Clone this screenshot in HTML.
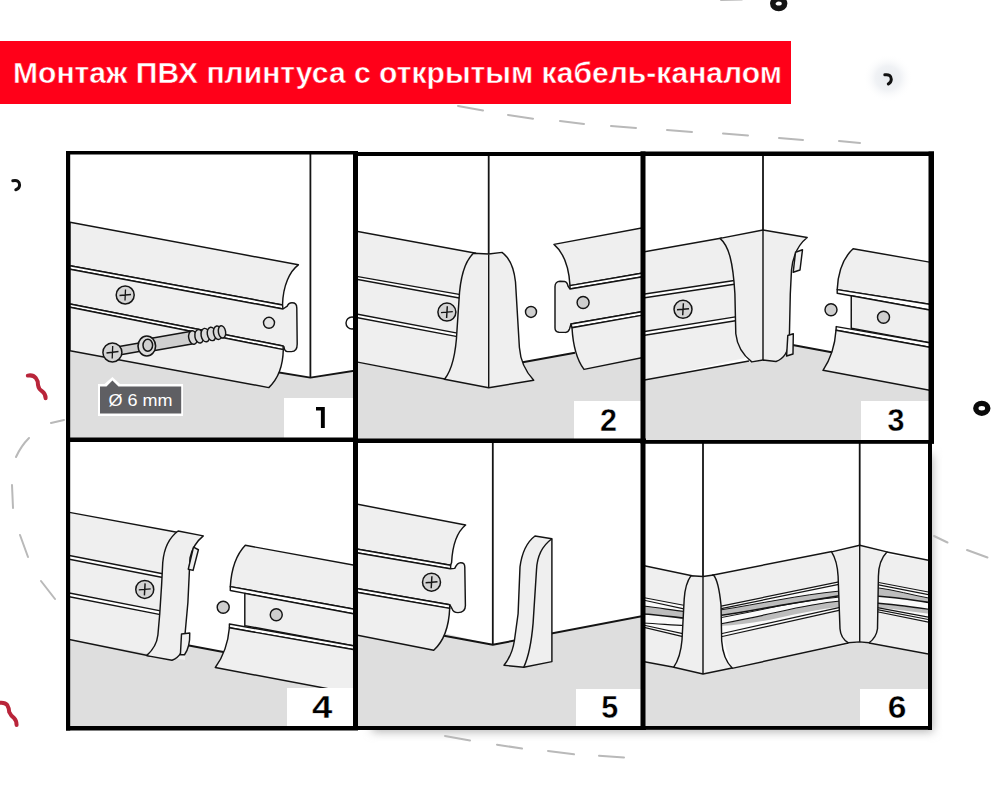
<!DOCTYPE html>
<html><head><meta charset="utf-8">
<style>
html,body{margin:0;padding:0;width:1000px;height:800px;overflow:hidden;background:#fff;}
svg{position:absolute;left:0;top:0;display:block}
</style></head><body>
<svg width="1000" height="800" viewBox="0 0 1000 800">
<defs>
<radialGradient id="glow" cx="0.5" cy="0.5" r="0.5">
<stop offset="0" stop-color="#e8ebef"/><stop offset="0.5" stop-color="#f0f2f5"/><stop offset="1" stop-color="#fff" stop-opacity="0"/>
</radialGradient>
<linearGradient id="shb" x1="0" y1="0" x2="0" y2="1">
<stop offset="0" stop-color="#cfcfcf"/><stop offset="0.35" stop-color="#ececec"/><stop offset="1" stop-color="#fff" stop-opacity="0"/>
</linearGradient>
<linearGradient id="shr" x1="0" y1="0" x2="1" y2="0">
<stop offset="0" stop-color="#d8d8d8"/><stop offset="0.4" stop-color="#f0f0f0"/><stop offset="1" stop-color="#fff" stop-opacity="0"/>
</linearGradient>
<filter id="blur" x="-10%" y="-10%" width="120%" height="120%"><feGaussianBlur stdDeviation="5"/></filter>
<clipPath id="c1"><rect x="68" y="152" width="288" height="288"/></clipPath>
<clipPath id="c2"><rect x="355" y="154" width="288" height="287"/></clipPath>
<clipPath id="c3"><rect x="643" y="154" width="288" height="288"/></clipPath>
<clipPath id="c4"><rect x="68" y="440" width="288" height="288"/></clipPath>
<clipPath id="c5"><rect x="355" y="441" width="288" height="287"/></clipPath>
<clipPath id="c6"><rect x="643" y="442" width="288" height="286"/></clipPath>
</defs>

<!-- decorations -->
<g fill="none" stroke="#b9b9b9" stroke-width="2" stroke-linecap="round">
<path d="M721,0 L742,-0.5"/>
<path d="M458,106 L483,110.5 M508,115 L533,118.7 M560,121 L584,124 M611,126 L636,128 M667,130 L692,132 M723,133.5 L748,135.5 M779,138 L803,140 M839,141 L860,143"/>
<path d="M64,420 L51,423 M29,438 Q21,446 16,457 M12,485 L13,508 M20,535 L28,557 M41,581 L55,599"/>
<path d="M934,536 L947.5,542.5 M967,550 L987.5,557.5"/>
<path d="M445,736 L470,740.6 M497,744.7 L522,748.5 M548,751 L574,754.3 M599,755.7 L624,757.4"/>
</g>
<ellipse cx="778.7" cy="3.6" rx="5.9" ry="4.8" fill="none" stroke="#151515" stroke-width="5.6"/>
<ellipse cx="888" cy="78" rx="25" ry="24" fill="url(#glow)"/>
<path d="M884.8,74.8 Q891.2,73.8 891.3,79.3 Q891.2,82.8 888.3,84" fill="none" stroke="#111" stroke-width="3" stroke-linecap="round"/>
<path d="M12.8,180.8 Q19.5,179.5 19.6,185 Q19.5,188.8 15.8,189.8" fill="none" stroke="#111" stroke-width="3" stroke-linecap="round"/>
<ellipse cx="981.8" cy="408.3" rx="6" ry="4.9" fill="none" stroke="#0a0a0a" stroke-width="5.4"/>
<path d="M27.8,375.6 Q33,374.6 35.8,378 Q38.2,381 38,385 Q38.6,389 42,391.2 Q45.6,393.8 45.6,398.2" fill="none" stroke="#b9253a" stroke-width="4" stroke-linecap="round"/>
<path d="M-1,702.8 Q5,702 7.2,705 Q9,708 9.2,712 Q11,716 14,718 Q16.6,720.5 16.6,725" fill="none" stroke="#b9253a" stroke-width="4" stroke-linecap="round"/>

<!-- shadow -->
<rect x="372" y="455" width="561" height="277" fill="#b8b8b8" filter="url(#blur)"/>

<!-- panel backgrounds -->
<rect x="68" y="152" width="864" height="576" fill="#fff"/>

<!-- PANELS -->
<g id="panels" stroke="#141414" stroke-width="1.45" stroke-linejoin="round">
<!-- P1 -->
<g clip-path="url(#c1)">
<polygon points="70,339 310.4,377.7 356,370.5 356,440 70,440" fill="#dedede" stroke="none"/>
<path d="M310.4,152 L310.4,377.7" fill="none" stroke-width="1.8"/>
<path d="M270,371 L310.4,377.7 L356,370.5" fill="none" stroke-width="1.8"/>
<circle cx="352" cy="323" r="6" fill="#fff"/>
<!-- baseboard -->
<path d="M70,222.2 L298.4,264.8 C290,271 283,285 282.5,305 L70,265.7 Z" fill="#efefef"/>
<path d="M70,265.7 L282.5,305 L283,309 L70,269.3 Z" fill="#fff"/>
<path d="M70,269.3 L283,309 L287.2,306.2 C288,304 289.5,302.8 292,302.8 C295.5,302.8 296.8,304.8 296.8,308 L297.2,344 C297.2,349.5 295,351.6 291.5,351.6 L287.5,351.6 C285.5,351.6 284.2,349.8 284,346.8 L283,346 L70,304 Z" fill="#efefef"/>
<path d="M70,304 L283,346 L283.3,349.6 L70,307.3 Z" fill="#fff"/>
<path d="M70,307.3 L283.3,349.6 C283,365 278,379 268.8,387.6 L70,350.8 Z" fill="#efefef"/>
<circle cx="269" cy="322.8" r="5.5" fill="#e4e4e4"/>
<circle cx="125.2" cy="295" r="9" fill="#d4d4d4" stroke-width="1.5"/>
<path d="M119.5,295.5 L131,294.5 M125.5,289.5 L125,300.5" fill="none" stroke-width="1.3"/>
<!-- dowel -->
<path d="M150,338.5 L190,331.5 L192,344 L152,351 Z" fill="#cfcfcf"/>
<ellipse cx="193" cy="337.5" rx="4.3" ry="6.8" fill="#dadada" transform="rotate(-10 193 337.5)"/>
<ellipse cx="199.2" cy="336.3" rx="4.3" ry="6.8" fill="#dadada" transform="rotate(-10 199.2 336.3)"/>
<ellipse cx="205.4" cy="335.1" rx="4.3" ry="6.8" fill="#dadada" transform="rotate(-10 205.4 335.1)"/>
<ellipse cx="211.6" cy="333.9" rx="4.3" ry="6.8" fill="#dadada" transform="rotate(-10 211.6 333.9)"/>
<ellipse cx="217.8" cy="332.7" rx="4.3" ry="6.8" fill="#dadada" transform="rotate(-10 217.8 332.7)"/>
<ellipse cx="222" cy="331.9" rx="3.6" ry="6.2" fill="#dadada" transform="rotate(-10 222 331.9)"/>
<path d="M112,347.8 L142,342.5 L143.5,350.8 L113.5,356 Z" fill="#cfcfcf"/>
<ellipse cx="146.8" cy="346" rx="8.8" ry="10" fill="#dcdcdc" stroke-width="1.6"/>
<ellipse cx="147.8" cy="345.2" rx="4.8" ry="6" fill="#cfcfcf" stroke-width="1.5"/>
<circle cx="112.4" cy="352.4" r="9.5" fill="#d4d4d4" stroke-width="1.5"/>
<path d="M106.5,353 L118.5,351.5 M112.7,346 L112.2,358.5" fill="none" stroke-width="1.3"/>
<!-- label -->
<path d="M98,384 L104.5,384 L112.4,377 L120,384 L183,384 L183,416 L98,416 Z" fill="#fff" stroke="none"/>
<path d="M100,386.4 L106.5,386.4 L112.4,380.5 L118.5,386.4 L181.2,386.4 L181.2,413.6 L100,413.6 Z" fill="#5f5f63" stroke="none"/>
<text x="108.4" y="405.6" font-family="Liberation Sans, sans-serif" font-size="16.5" fill="#fff" stroke="none" textLength="64" lengthAdjust="spacingAndGlyphs">Ø 6 mm</text>
</g>
<!-- P2 -->
<g clip-path="url(#c2)">
<polygon points="355,362 444.5,379.3 488.7,387.8 533.7,380.2 522.7,362.3 573.7,353 643,341 643,441 355,441" fill="#dedede" stroke="none"/>
<path d="M488.7,152 L488.7,388" fill="none" stroke-width="1.8"/>
<path d="M522.7,362.3 L575,352.8" fill="none" stroke-width="2"/>
<circle cx="531" cy="311.9" r="5.5" fill="#cfcfcf"/>
<!-- left baseboard -->
<path d="M355,231 L482,254.3 L482,385 L355,361.6 Z" fill="#efefef" stroke="none"/>
<path d="M355,231 L476,253.2" fill="none"/>
<path d="M355,276.1 L462,294.9 L462,298.5 L355,278.9 Z" fill="#fff"/>
<path d="M355,313.8 L460,333.6 L460,337.1 L355,317.2 Z" fill="#fff"/>
<path d="M355,361.6 L446,379.3" fill="none"/>
<circle cx="446.9" cy="312.1" r="9" fill="#d4d4d4" stroke-width="1.5"/>
<path d="M441,312.6 L452.8,311.6 M447.3,306.2 L446.6,318" fill="none"/>
<!-- corner piece -->
<path d="M473.5,253.2 L488.7,254 L502,252.4 C510,258 514,268 515.5,282 L519.4,347.5 C520.5,362 526,372 533.7,380.2 L488.7,387.8 L444.5,379.3 C452,370 456,352 457,330 L459,300 C460,280 464,262 473.5,253.2 Z" fill="#efefef"/>
<path d="M488.7,254.5 L488.7,387.8" fill="none"/>
<!-- right baseboard -->
<path d="M554,244.4 L643,227.8 L643,272.9 L570,285.6 C569,268 564,253 554,244.4 Z" fill="#efefef"/>
<path d="M570,285.6 L643,272.9 L643,276.7 L570,289 Z" fill="#fff"/>
<path d="M570,289 L643,276.7 L643,311.4 L571,324 L569.5,329 C568.5,331.5 567,332.4 565.5,332.4 L559,332.2 C556.5,332 555,330.5 555,328 L555,286.5 C555,283.5 557,281.2 560,281.2 L564.5,281.5 C566.5,281.8 567.5,283.5 568,286 Z" fill="#efefef"/>
<path d="M571,324 L643,311.4 L643,315.1 L572,327.7 Z" fill="#fff"/>
<path d="M572,327.7 L643,315.1 L643,357.5 L584,369.4 C577,360 573,345 572,327.7 Z" fill="#efefef"/>
<circle cx="583.1" cy="302.5" r="6" fill="#cfcfcf"/>
</g>
<!-- P3 -->
<g clip-path="url(#c3)">
<polygon points="643,380.2 747,361 763,360 776,361.5 789,350 792.2,345 832.5,352.5 931,370 931,442 643,442" fill="#dedede" stroke="none"/>
<path d="M763,152 L763,360" fill="none" stroke-width="1.8"/>
<path d="M790,344.6 L833,352.6" fill="none" stroke-width="2"/>
<circle cx="831" cy="309.7" r="6" fill="#cfcfcf"/>
<!-- left baseboard -->
<path d="M643,252.1 L745,234 L745,358 L643,380.2 Z" fill="#efefef" stroke="none"/>
<path d="M643,252.1 L722,238" fill="none"/>
<path d="M643,294.2 L736,280.2 L736,284 L643,298 Z" fill="#fff"/>
<path d="M643,331.7 L737,316.6 L737,320.5 L643,335.5 Z" fill="#fff"/>
<path d="M643,380.2 L749,361" fill="none"/>
<circle cx="683" cy="309.3" r="9" fill="#d4d4d4" stroke-width="1.5"/>
<path d="M677,309.8 L689,308.8 M683.4,303.3 L682.7,315.3" fill="none"/>
<!-- corner piece -->
<path d="M720,238.4 L763,230 L807.2,237.5 C799,244 793,255 791.5,270 L790.3,293.75 L789.3,340 C788.5,352 783,359 776,361.5 L763,360 L751.75,361.9 C743,355 737,345 735.8,333.75 L734.9,293.7 C733,262 729,246 720,238.4 Z" fill="#efefef"/>
<path d="M763,230 L763,360" fill="none"/>
<path d="M795.5,252.3 L802.5,249.7 L800,270 L793.2,272.3 Z" fill="#efefef"/>
<path d="M787.8,335.5 L793.3,333.8 L793,354 L786.6,356 Z" fill="#efefef"/>
<!-- right baseboard -->
<path d="M853.1,248.75 L931,262.4 L931,304.6 L837.2,289.6 C838,272 843,258 853.1,248.75 Z" fill="#efefef"/>
<path d="M837.2,289.6 L931,304.6 L931,310.2 L837.2,293.3 Z" fill="#fff"/>
<path d="M851.25,295.8 L931,310.2 L931,343 L851.25,328.3 Z" fill="#efefef"/>
<path d="M836.25,326.6 L931,343 L931,347.6 L836,330.3 Z" fill="#fff"/>
<path d="M836,330.3 L931,347.6 L931,390.6 L823,370.3 C830,360 835,345 836,330.3 Z" fill="#efefef"/>
<circle cx="883.5" cy="317.2" r="6" fill="#cfcfcf"/>
</g>
<!-- P4 -->
<g clip-path="url(#c4)">
<polygon points="68,623 356,676.5 356,728 68,728" fill="#dedede" stroke="none"/>
<path d="M185,644.8 L226,652.5" fill="none" stroke-width="2"/>
<circle cx="223.2" cy="607.2" r="6" fill="#cfcfcf"/>
<!-- left baseboard -->
<path d="M68,512.1 L185,534 L185,660 L68,639.3 Z" fill="#efefef" stroke="none"/>
<path d="M68,512.1 L177,532.3" fill="none"/>
<path d="M68,555.2 L164,574 L164,577.8 L68,559 Z" fill="#fff"/>
<path d="M68,592.7 L163,611.4 L163,615.1 L68,596.5 Z" fill="#fff"/>
<path d="M68,639.3 L150,656" fill="none"/>
<circle cx="144.75" cy="589.4" r="9" fill="#d4d4d4" stroke-width="1.5"/>
<path d="M138.8,589.9 L150.7,588.9 M145.1,583.4 L144.4,595.4" fill="none"/>
<!-- connector -->
<path d="M178.1,531 L203.3,535.9 C197,541 192,548 190,558 L187.9,602.5 L184.5,640 C183.5,651 178.5,658 172,660.3 L146.6,655.6 C153,650 157,643 157.9,635 L159.75,613.75 L161.6,585 L162.75,562.5 C164,548 170,537 178.1,531 Z" fill="#efefef"/>
<path d="M193.5,547.1 L198.4,549.75 L193.1,570.4 L188.25,569.25 Z" fill="#efefef"/>
<path d="M181.5,634 L189.75,633 C190,642 188,650 184.5,654.7 L180.4,654.7 Z" fill="#efefef"/>
<!-- right baseboard -->
<path d="M245.3,545.3 L356,565.5 L356,609.6 L230.3,586.6 C231.5,567 236,555 245.3,545.3 Z" fill="#efefef"/>
<path d="M230.3,586.6 L356,609.6 L356,614.3 L230.3,590.5 Z" fill="#fff"/>
<path d="M244.8,593.4 L356,614.3 L356,646.2 L244.8,625.6 Z" fill="#efefef"/>
<path d="M229.4,624 L356,646.2 L356,650 L229.4,627.8 Z" fill="#fff"/>
<path d="M229.4,627.8 L356,650 L356,694 L215.3,667.5 C223,657 228,644 229.4,627.8 Z" fill="#efefef"/>
<circle cx="276.25" cy="614.7" r="6" fill="#cfcfcf"/>
</g>
<!-- P5 -->
<g clip-path="url(#c5)">
<polygon points="355,612 492.8,644.7 643,616 643,728 355,728" fill="#dedede" stroke="none"/>
<path d="M492.8,442 L492.8,644.7" fill="none" stroke-width="1.8"/>
<path d="M440,635 L492.8,644.7 L643,616" fill="none" stroke-width="1.9"/>
<!-- end cap -->
<path d="M535,536 L551.9,538.75 L551.9,661.6 L523.75,667.2 L504,665.3 C510,658 513,650 514.5,640 L518.1,613.75 L520,566.9 C522,552 527,542 535,536 Z" fill="#efefef"/>
<path d="M551.9,538.75 C542,546 537,556 536.5,570 L533.1,623.1 C531.5,642 529,656 523.75,667.2" fill="none"/>
<!-- baseboard -->
<path d="M355,503.8 L465.6,525 C457,532 452.5,545 451.6,562.5 L450.6,565.3 L355,548.8 Z" fill="#efefef"/>
<path d="M355,548.8 L450.6,565.3 L450.6,569 L355,552.5 Z" fill="#fff"/>
<path d="M355,552.5 L450.3,568.8 L454.7,568.4 C456,565.5 457.2,562.8 460.6,562.7 C463.6,562.6 464.8,564.2 464.8,567.2 L465.4,605.5 C465.4,610.5 462.5,612.6 458,612.6 C455,612.6 452.8,611.2 452,608.6 L449.7,604.7 L355,588.2 Z" fill="#efefef"/>
<path d="M355,588.2 L449.7,604.7 L449.7,608.4 L355,591.9 Z" fill="#fff"/>
<path d="M355,591.9 L449.7,608.4 C449,625 445,640 433.75,650.3 L355,634.7 Z" fill="#efefef"/>
<circle cx="431.5" cy="582.2" r="9" fill="#d4d4d4" stroke-width="1.5"/>
<path d="M425.6,582.7 L437.5,581.7 M431.9,576.2 L431.2,588.2" fill="none"/>
</g>
<!-- P6 -->
<g clip-path="url(#c6)">
<polygon points="643,661.4 703,674 859.7,641.9 931,655 931,728 643,728" fill="#dedede" stroke="none"/>
<path d="M703,442 L703,577 M859.7,442 L859.7,546" fill="none" stroke-width="1.8"/>
<!-- left section -->
<path d="M643,565.4 L693,576 L703,576.5 L686,669 L643,661.4 Z" fill="#efefef" stroke="none"/>
<path d="M643,565.4 L692,575.8 M643,661.4 L674,667.2" fill="none"/>
<path d="M643,597.5 L685,605.5 L685,637.2 L643,627.2 Z" fill="#fafafa" stroke="none"/>
<path d="M643,606 C660,608 672,610 685,611.5 L685,617.5 C670,616 655,614 643,613.5 Z" fill="#bdbdbd" stroke="none"/>
<path d="M643,597.5 L685,605.5 M643,600 L685,609.2 M643,606 C660,608 672,610 685,611.5 M643,627.2 L685,637.2 M643,625 L685,634.2" fill="none" stroke-width="1.2"/>
<path d="M643,614 C655,614.5 670,616.5 685,618.2" fill="none" stroke-width="1.7"/>
<path d="M643,623 C660,624 672,625 685,625.7" fill="none" stroke-width="1.1"/>
<!-- middle section -->
<path d="M705,577.5 L833,551.5 L848,642.8 L732,668.4 Z" fill="#efefef" stroke="none"/>
<path d="M712,575.2 L832,551.5 M732,668.4 L848.4,643" fill="none"/>
<path d="M720,606.4 L840,581.6 L840,610.2 L720,637 Z" fill="#fafafa" stroke="none"/>
<path d="M720,610 C740,607 760,603 778,600 C800,596 820,593 840,591 L840,595.5 C820,599 800,602 778,605.8 C760,609 740,613 720,615.5 Z" fill="#bdbdbd" stroke="none"/>
<path d="M757,617 C770,614 790,610 810,605 C822,603 832,602 840,601 L840,607 C820,609 800,613 778,618 C760,622 740,625 720,626 L720,624 C735,622 748,619 757,617 Z" fill="#bdbdbd" stroke="none"/>
<path d="M720,606.4 L840,581.6 M720,608.8 L840,584.2 M720,634 L840,607.3 M720,637 L840,610.2" fill="none" stroke-width="1.2"/>
<path d="M720,610 C740,607 760,603 778,600 C800,596 820,593 840,591" fill="none" stroke-width="1"/>
<path d="M720,615.5 C740,613 760,609 778,605.8 C800,602 820,599 840,595.5" fill="none" stroke-width="1.5"/>
<path d="M720,617.8 C740,614 760,610 778,606.2 C800,602 820,599 840,597" fill="none" stroke-width="1"/>
<path d="M720,624 C740,620 760,616 778,612 C800,607 820,603 840,601" fill="none" stroke-width="1.2"/>
<!-- right section -->
<path d="M870,552 L931,561 L931,655 L869,643 Z" fill="#efefef" stroke="none"/>
<path d="M886.9,552 L931,560.8 M869,643 L931,654.6" fill="none"/>
<path d="M876,582 L931,592.5 L931,622.7 L876,611.5 Z" fill="#fafafa" stroke="none"/>
<path d="M876,587.5 C895,590 912,595 931,598.5 L931,602.5 C912,600 895,597 876,595.5 Z" fill="#bdbdbd" stroke="none"/>
<path d="M876,603.5 C895,605 912,608 931,610 L931,614 C912,612 895,609 876,607.5 Z" fill="#bdbdbd" stroke="none"/>
<path d="M876,582 L931,592.5 M876,584.4 L931,595.2 M876,607.4 L931,617.6 M876,609.4 L931,620 M876,611.5 L931,622.7" fill="none" stroke-width="1.2"/>
<path d="M876,587.5 C895,590 912,595 931,598.5" fill="none" stroke-width="1"/>
<path d="M876,596 C895,597 912,600 931,602.8" fill="none" stroke-width="1.5"/>
<path d="M876,603 C895,604.5 912,607 931,609.7" fill="none" stroke-width="1.3"/>
<!-- outer corner piece -->
<path d="M691,575.7 L703,576.5 L713.5,575 C717,579 719.5,590 721,605 L721.7,641 C722.5,652 726,662 732.2,668 L703,674 L673.7,667.2 C678,661 681,652 682,640 L684.2,599 C684.8,590 686.5,582 691,575.7 Z" fill="#efefef"/>
<path d="M703,576.5 L703,674" fill="none"/>
<!-- inner corner piece -->
<path d="M831.6,551.9 L859.7,545.3 L886.9,551.9 C881,558 878.5,566 878.4,576.25 L877.5,628.75 C876.5,636 873,640 869,642.8 L859.7,641.9 L848.4,642.8 C843.5,640 840.5,636 840,628.75 L838.1,576.25 C837.5,566 835.5,558 831.6,551.9 Z" fill="#efefef"/>
<path d="M859.7,545.3 L859.7,641.9" fill="none"/>
</g>
</g>

<!-- number boxes -->
<g fill="#fff">
<rect x="284" y="398" width="70" height="40"/>
<rect x="574" y="401" width="67" height="38"/>
<rect x="861" y="401" width="68" height="40"/>
<rect x="287" y="688" width="67" height="39"/>
<rect x="576" y="689" width="65" height="38"/>
<rect x="860" y="689" width="69" height="38"/>
</g>
<g font-family="Liberation Sans, sans-serif" font-weight="bold" font-size="30.5" fill="#000" stroke="#fff" stroke-width="0.35" text-anchor="middle">
<text x="608.4" y="430.8">2</text>
<text x="896" y="430.8">3</text>
<text transform="translate(322.2 718.2) scale(1.2 1)">4</text>
<text x="609.8" y="717.8">5</text>
<text transform="translate(897 718.2) scale(1.1 1)">6</text>
</g>

<path d="M316,407 L324.8,407 L324.8,428 L320.9,428 L320.9,410.6 L316,410.6 Z" fill="#000"/>
<!-- grid -->
<g fill="#000">
<rect x="66" y="151" width="292" height="3.5"/>
<rect x="353" y="152" width="293" height="4"/>
<rect x="640.5" y="151.5" width="293.5" height="4.5"/>
<rect x="66" y="437.5" width="292" height="4.5"/>
<rect x="353" y="438.5" width="293" height="4.5"/>
<rect x="640.5" y="440" width="293.5" height="3.8"/>
<rect x="66" y="726" width="292" height="4.5"/>
<rect x="353" y="726" width="293" height="4"/>
<rect x="640.5" y="726" width="291.5" height="3.8"/>
<rect x="66" y="151" width="4.2" height="579.5"/>
<rect x="353" y="151" width="5" height="579"/>
<rect x="640.5" y="151.5" width="5" height="578.5"/>
<rect x="928.5" y="151.5" width="5.5" height="292"/>
<rect x="928" y="440" width="4" height="290"/>
</g>

<!-- banner -->
<rect x="0" y="41" width="791" height="63" fill="#ff0019"/>
<text x="13" y="82.5" font-family="Liberation Sans, sans-serif" font-weight="bold" font-size="29.5" fill="#fff" stroke="#ff0019" stroke-width="0.5" textLength="769" lengthAdjust="spacingAndGlyphs">Монтаж ПВХ плинтуса с открытым кабель-каналом</text>
</svg>
</body></html>
